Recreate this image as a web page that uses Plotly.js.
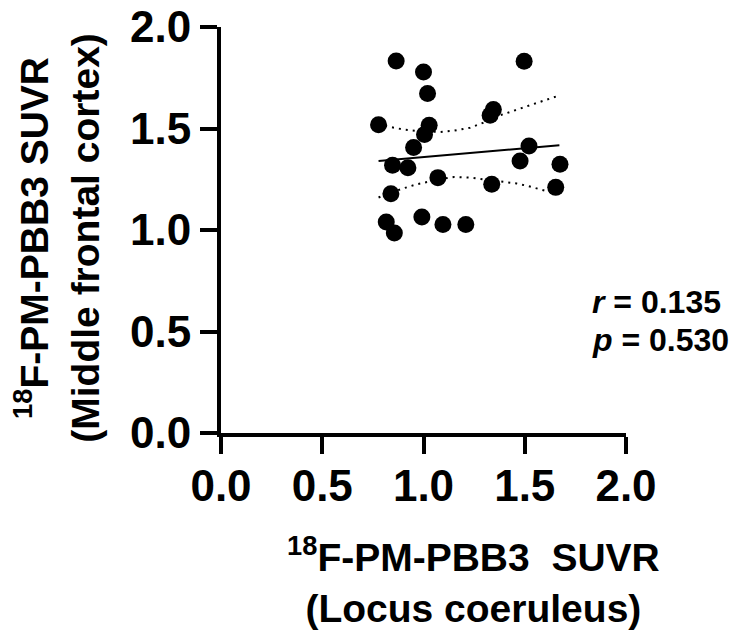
<!DOCTYPE html>
<html>
<head>
<meta charset="utf-8">
<script src="https://cdn.plot.ly/plotly-3.0.1.min.js"></script>
<style>html,body{margin:0;padding:0;background:#fff;}#chart{width:737px;height:636px;}</style>
</head>
<body>
<div id="chart"></div>
<script>
// Observed points: LC SUVR (x) vs middle frontal cortex SUVR (y)
var lcSUVR = [0.865, 1.000, 1.020, 1.497, 0.778, 1.028, 1.005, 1.345, 1.329, 0.951, 1.521, 0.847,
              0.923, 1.477, 1.674, 1.071, 1.337, 1.653, 0.839, 0.816, 0.856, 0.992, 1.096, 1.209];
var mfcSUVR = [1.833, 1.778, 1.672, 1.831, 1.519, 1.516, 1.470, 1.593, 1.565, 1.406, 1.414, 1.319,
               1.307, 1.340, 1.324, 1.258, 1.225, 1.210, 1.179, 1.039, 0.985, 1.064, 1.027, 1.027];
// Regression line
var fitX = [0.778, 1.671];
var fitY = [1.340, 1.417];
// 95% confidence band
var ciX = [0.778, 0.820, 0.900, 0.967, 1.082, 1.150, 1.230, 1.313, 1.378, 1.460, 1.510, 1.608, 1.671];
var ciUpper = [1.525, 1.511, 1.495, 1.488, 1.483, 1.489, 1.504, 1.535, 1.565, 1.592, 1.609, 1.640, 1.663];
var ciLower = [1.160, 1.178, 1.205, 1.225, 1.250, 1.261, 1.258, 1.248, 1.240, 1.229, 1.218, 1.190, 1.175];
var statR = "0.135";
var statP = "0.530";
var xTitle = "<sup>18</sup>F-PM-PBB3  SUVR<br>(Locus coeruleus)";
var yTitle = "<sup>18</sup>F-PM-PBB3 SUVR<br>(Middle frontal cortex)";

var FONT = "Liberation Sans, Arial, Helvetica, sans-serif";

var traces = [
  {x: ciX, y: ciUpper, type: 'scatter', mode: 'lines', line: {color: '#000', width: 2, dash: '2px,5px'}, hoverinfo: 'skip'},
  {x: ciX, y: ciLower, type: 'scatter', mode: 'lines', line: {color: '#000', width: 2, dash: '2px,5px'}, hoverinfo: 'skip'},
  {x: fitX, y: fitY, type: 'scatter', mode: 'lines', line: {color: '#000', width: 2}},
  {x: lcSUVR, y: mfcSUVR, type: 'scatter', mode: 'markers', marker: {color: '#000', size: 17}}
];

var axisCommon = {
  range: [0, 2], dtick: 0.5, tick0: 0, tickformat: '.1f',
  showline: true, linecolor: '#000', linewidth: 4,
  ticks: 'outside', ticklen: 17, tickwidth: 4, tickcolor: '#000',
  showgrid: false, zeroline: false,
  tickfont: {family: FONT, size: 44, color: '#000', weight: 'bold'}
};

var layout = {
  width: 737, height: 636,
  margin: {l: 220.5, r: 111, t: 26.7, b: 203.3},
  paper_bgcolor: '#fff', plot_bgcolor: '#fff',
  showlegend: false,
  xaxis: Object.assign({}, axisCommon, {ticklabelstandoff: -6}),
  yaxis: Object.assign({}, axisCommon, {ticklabelstandoff: 0}),
  annotations: [
    {xref: 'paper', yref: 'paper', x: 0.623, y: -0.362, xanchor: 'center', yanchor: 'middle',
     text: '<b>' + xTitle + '</b>', showarrow: false, font: {family: FONT, size: 39, color: '#000'}},
    {xref: 'paper', yref: 'paper', x: -0.404, y: 0.482, xanchor: 'center', yanchor: 'middle', textangle: -90,
     text: '<b>' + yTitle + '</b>', showarrow: false, font: {family: FONT, size: 39, color: '#000'}},
    {xref: 'paper', yref: 'paper', x: 0.911, y: 0.323, xanchor: 'left', yanchor: 'middle',
     text: '<b><i>r</i> = ' + statR + '</b>', showarrow: false, font: {family: FONT, size: 32, color: '#000'}},
    {xref: 'paper', yref: 'paper', x: 0.911, y: 0.228, xanchor: 'left', yanchor: 'middle',
     text: '<b><i>p</i> = ' + statP + '</b>', showarrow: false, font: {family: FONT, size: 32, color: '#000'}}
  ]
};

Plotly.newPlot('chart', traces, layout, {displayModeBar: false, staticPlot: true});
</script>
</body>
</html>
